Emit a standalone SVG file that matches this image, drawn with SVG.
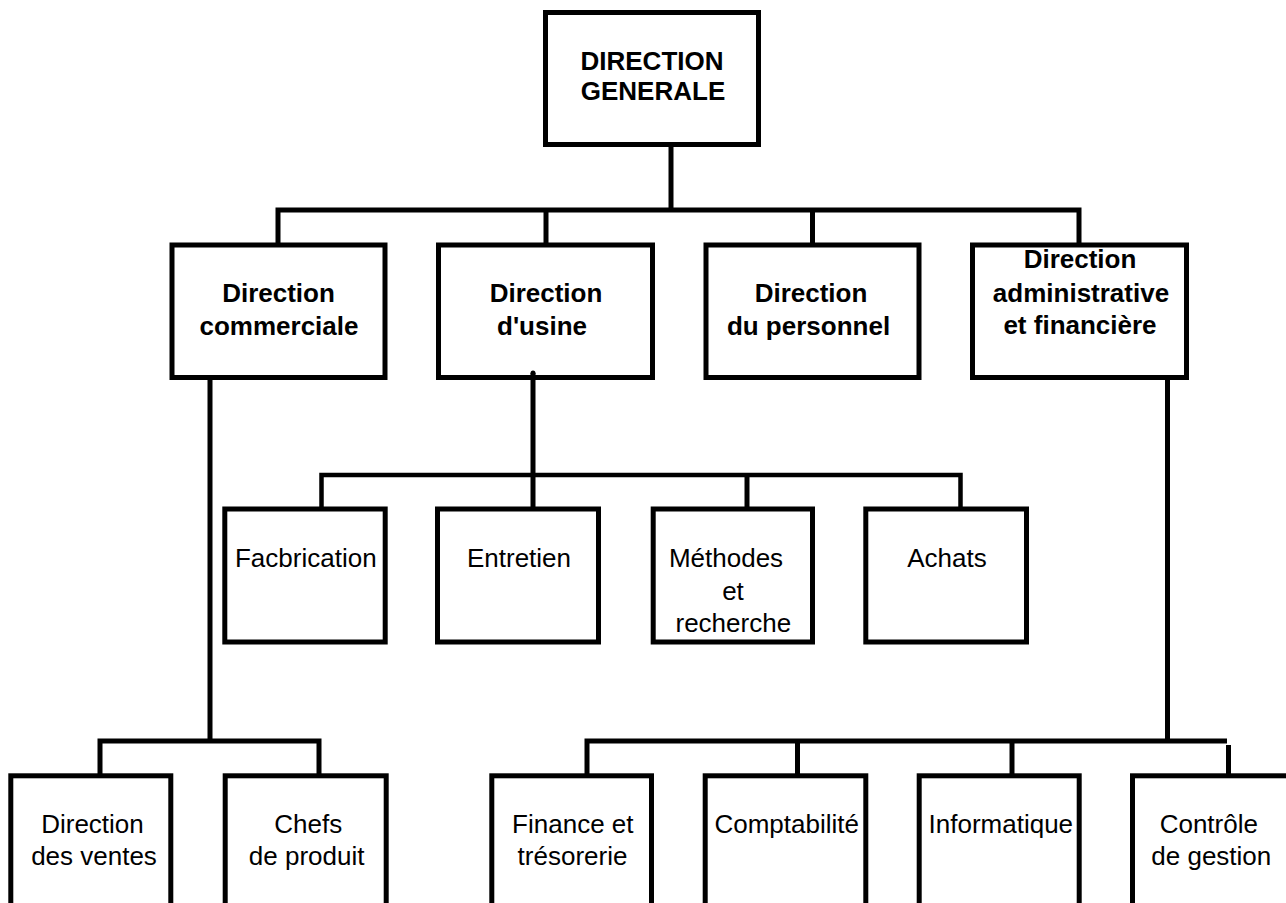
<svg xmlns="http://www.w3.org/2000/svg" width="1286" height="903" viewBox="0 0 1286 903">
<style>
.box{fill:#fff;stroke:#000;stroke-width:5}
.ln{fill:none;stroke:#000;stroke-width:5;stroke-linejoin:miter;stroke-linecap:butt}
.ln2{fill:none;stroke:#000;stroke-width:4.5;stroke-linejoin:miter;stroke-linecap:butt}
text{font-family:"Liberation Sans",Arial,sans-serif;font-size:26px;fill:#000;text-anchor:middle}
.b{font-weight:bold}
</style>
<rect width="1286" height="903" fill="#fff"/>
<g id="n-dg">
  <rect class="box" x="545.5" y="12.5" width="213" height="132"/>
  <text class="b" x="652" y="70">DIRECTION</text>
  <text class="b" x="653" y="100">GENERALE</text>
</g>
<g id="n-commerciale">
  <rect class="box" x="172" y="245" width="213" height="132.5"/>
  <text class="b" x="278.5" y="301.7">Direction</text>
  <text class="b" x="279" y="335">commerciale</text>
</g>
<g id="n-usine">
  <rect class="box" x="438.5" y="245" width="214" height="132.5"/>
  <text class="b" x="546" y="301.7">Direction</text>
  <text class="b" x="542" y="335">d'usine</text>
</g>
<g id="n-personnel">
  <rect class="box" x="706" y="245" width="213" height="132.5"/>
  <text class="b" x="811" y="301.7">Direction</text>
  <text class="b" x="808.5" y="335">du personnel</text>
</g>
<g id="n-admin">
  <rect class="box" x="972.5" y="245" width="214" height="132.5"/>
  <text class="b" x="1080" y="268.3">Direction</text>
  <text class="b" x="1081" y="301.7">administrative</text>
  <text class="b" x="1080" y="334.3">et financière</text>
</g>
<g id="n-fabrication">
  <rect class="box" x="224.8" y="509" width="160.4" height="133"/>
  <text x="305.8" y="566.7">Facbrication</text>
</g>
<g id="n-entretien">
  <rect class="box" x="437.5" y="509" width="161" height="133"/>
  <text x="519" y="566.7">Entretien</text>
</g>
<g id="n-methodes">
  <rect class="box" x="653.2" y="509" width="159.3" height="133"/>
  <text x="726" y="566.7">Méthodes</text>
  <text x="733" y="600">et</text>
  <text x="733.3" y="631.7">recherche</text>
</g>
<g id="n-achats">
  <rect class="box" x="865.8" y="509" width="160.7" height="133"/>
  <text x="947" y="566.7">Achats</text>
</g>
<g id="n-ventes">
  <rect class="box" x="10.8" y="775.8" width="160" height="160"/>
  <text x="92.5" y="833.3">Direction</text>
  <text x="94" y="865">des ventes</text>
</g>
<g id="n-chefs">
  <rect class="box" x="225.2" y="775.8" width="161" height="160"/>
  <text x="308.3" y="833.3">Chefs</text>
  <text x="306.7" y="865">de produit</text>
</g>
<g id="n-finance">
  <rect class="box" x="491.8" y="775.8" width="159.7" height="160"/>
  <text x="572.8" y="833.3">Finance et</text>
  <text x="572.5" y="865">trésorerie</text>
</g>
<g id="n-compta">
  <rect class="box" x="705.2" y="775.8" width="160.6" height="160"/>
  <text x="786.7" y="833.3">Comptabilité</text>
</g>
<g id="n-info">
  <rect class="box" x="919.2" y="775.8" width="160" height="160"/>
  <text x="1000.8" y="833.3">Informatique</text>
</g>
<g id="n-controle">
  <rect class="box" x="1132.5" y="775.8" width="160" height="160"/>
  <text x="1208.8" y="833.3">Contrôle</text>
  <text x="1211.3" y="865">de gestion</text>
</g>
<g id="connectors">
  <path class="ln" d="M671,147 V210"/>
  <path class="ln" d="M278,243 V210 H1079 V243"/>
  <path class="ln" d="M546,210 V243"/>
  <path class="ln" d="M812.5,210 V243"/>
  <path class="ln" d="M533,373 V507"/>
  <circle cx="533" cy="373" r="2.5" fill="#000"/>
  <path class="ln2" d="M321.5,507 V475 H960.5 V507"/>
  <path class="ln" d="M747,475 V507"/>
  <path class="ln" d="M210,380 V741"/>
  <path class="ln" d="M100,774 V741 H319 V774"/>
  <path class="ln" d="M1167.5,380 V741"/>
  <path class="ln" d="M587,774 V741 H1227"/>
  <path class="ln" d="M797.5,741 V774"/>
  <path class="ln" d="M1012,741 V774"/>
  <path class="ln" d="M1228.5,745 V774" stroke-linecap="round"/>
</g>
</svg>
